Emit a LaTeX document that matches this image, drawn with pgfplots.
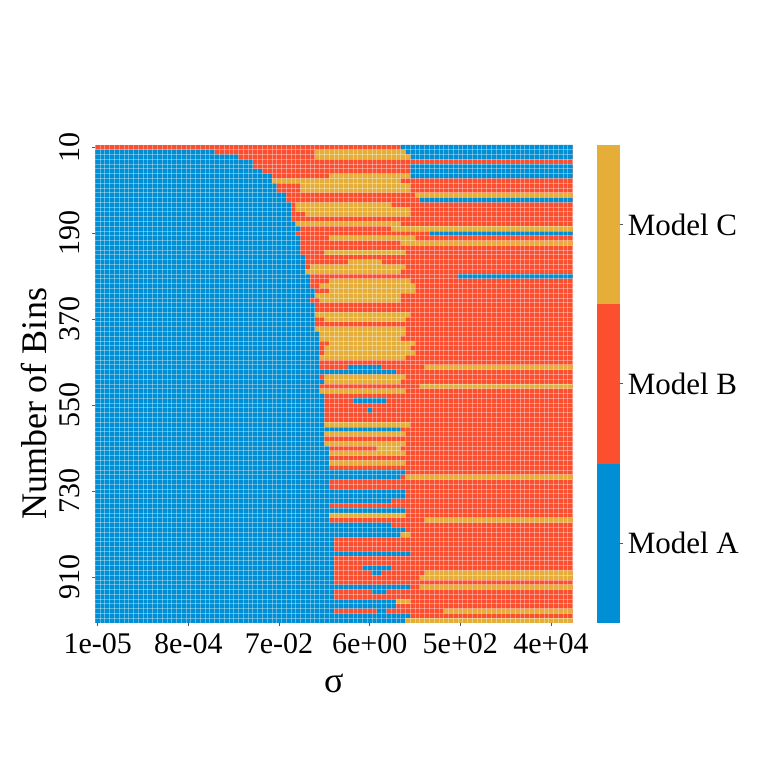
\documentclass[border=0pt]{standalone}
\usepackage{pgfplots}
\pgfplotsset{compat=1.18}
\usepackage{fontspec}
\setmainfont{Liberation Serif}
\definecolor{cA}{HTML}{008FD5}
\definecolor{cB}{HTML}{FC4F30}
\definecolor{cC}{HTML}{E5AE38}
\begin{document}
\begin{tikzpicture}
\path[use as bounding box] (0,0) rectangle (380.5pt,380.5pt);
\begin{axis}[
  at={(47.65pt,69.05pt)}, anchor=south west,
  scale only axis, width=238.6pt, height=239pt,
  xmin=0, xmax=100, ymin=0, ymax=100, y dir=reverse,
  axis line style={draw=none},
  xtick={0.5,19.5,38.5,57.5,76.5,95.5},
  xticklabels={1e-05,8e-04,7e-02,6e+00,5e+02,4e+04},
  ytick={0.5,18.5,36.5,54.5,72.5,90.5},
  yticklabels={10,190,370,550,730,910},
  minor xtick={1,2,...,99}, minor ytick={1,2,...,99},
  xminorgrids, yminorgrids,
  minor grid style={white, opacity=0.35, line width=0.35pt},
  minor tick length=0pt,
  major tick length=1.7pt,
  tick align=outside,
  tick style={black!65, line width=0.5pt},
  xtick pos=left, ytick pos=left,
  axis on top,
  unbounded coords=jump,
  tick label style={font=\fontsize{15}{18}\selectfont},
  yticklabel style={xshift=-5.75pt, rotate=90, anchor=south, inner sep=0pt},
  xticklabel style={anchor=base, inner sep=0pt, yshift=-13.35pt},
  label style={font=\fontsize{18}{21}\selectfont},
  xlabel={σ},
  ylabel={Number of Bins},
  xlabel style={at={(axis description cs:0.5,-0.1446)}, anchor=base},
  ylabel style={at={(axis description cs:-0.1290,0.458)}, anchor=center},
]
\addplot[fill=cB, draw=none] coordinates {(0,0) (100,0) (100,100) (0,100)};
\addplot[fill=cA, draw=none] coordinates {
(0,1)(25,1)(25,2)(0,2)(nan,nan)
(0,2)(30,2)(30,3)(0,3)(nan,nan)
(0,3)(33,3)(33,5)(0,5)(nan,nan)
(0,5)(35,5)(35,6)(0,6)(nan,nan)
(0,6)(37,6)(37,8)(0,8)(nan,nan)
(0,8)(38,8)(38,10)(0,10)(nan,nan)
(0,10)(40,10)(40,12)(0,12)(nan,nan)
(0,12)(41,12)(41,16)(0,16)(nan,nan)
(0,16)(42,16)(42,17)(0,17)(nan,nan)
(0,17)(43,17)(43,18)(0,18)(nan,nan)
(0,18)(42,18)(42,19)(0,19)(nan,nan)
(0,19)(43,19)(43,23)(0,23)(nan,nan)
(0,23)(44,23)(44,27)(0,27)(nan,nan)
(0,27)(45,27)(45,30)(0,30)(nan,nan)
(0,30)(46,30)(46,32)(0,32)(nan,nan)
(0,32)(45,32)(45,33)(0,33)(nan,nan)
(0,33)(46,33)(46,39)(0,39)(nan,nan)
(0,39)(47,39)(47,47)(0,47)(nan,nan)
(0,47)(63,47)(63,48)(0,48)(nan,nan)
(0,48)(47,48)(47,49)(0,49)(nan,nan)
(0,49)(48,49)(48,50)(0,50)(nan,nan)
(0,50)(47,50)(47,52)(0,52)(nan,nan)
(0,52)(48,52)(48,59)(0,59)(nan,nan)
(0,59)(64,59)(64,60)(0,60)(nan,nan)
(0,60)(48,60)(48,63)(0,63)(nan,nan)
(0,63)(49,63)(49,68)(0,68)(nan,nan)
(0,68)(65,68)(65,69)(0,69)(nan,nan)
(0,69)(64,69)(64,70)(0,70)(nan,nan)
(0,70)(49,70)(49,72)(0,72)(nan,nan)
(0,72)(65,72)(65,74)(0,74)(nan,nan)
(0,74)(62,74)(62,75)(0,75)(nan,nan)
(0,75)(49,75)(49,76)(0,76)(nan,nan)
(0,76)(65,76)(65,77)(0,77)(nan,nan)
(0,77)(49,77)(49,79)(0,79)(nan,nan)
(0,79)(62,79)(62,80)(0,80)(nan,nan)
(0,80)(65,80)(65,81)(0,81)(nan,nan)
(0,81)(64,81)(64,82)(0,82)(nan,nan)
(0,82)(50,82)(50,85)(0,85)(nan,nan)
(0,85)(66,85)(66,86)(0,86)(nan,nan)
(0,86)(50,86)(50,92)(0,92)(nan,nan)
(0,92)(66,92)(66,93)(0,93)(nan,nan)
(0,93)(50,93)(50,95)(0,95)(nan,nan)
(0,95)(63,95)(63,97)(0,97)(nan,nan)
(0,97)(50,97)(50,98)(0,98)(nan,nan)
(0,98)(66,98)(66,99)(0,99)(nan,nan)
(0,99)(65,99)(65,100)(0,100)(nan,nan)
(64,0)(100,0)(100,1)(64,1)(nan,nan)
(65,1)(100,1)(100,2)(65,2)(nan,nan)
(66,2)(100,2)(100,3)(66,3)(nan,nan)
(66,4)(100,4)(100,7)(66,7)(nan,nan)
(68,11)(100,11)(100,12)(68,12)(nan,nan)
(70,18)(100,18)(100,19)(70,19)(nan,nan)
(76,27)(100,27)(100,28)(76,28)(nan,nan)
(53,46)(60,46)(60,47)(53,47)(nan,nan)
(54,53)(61,53)(61,54)(54,54)(nan,nan)
(57,55)(58,55)(58,56)(57,56)(nan,nan)
(56,88)(62,88)(62,89)(56,89)(nan,nan)
(58,89)(60,89)(60,90)(58,90)(nan,nan)
(58,93)(61,93)(61,94)(58,94)(nan,nan)
(59,97)(61,97)(61,98)(59,98)
};
\addplot[fill=cC, draw=none] coordinates {
(46,1)(65,1)(65,2)(46,2)(nan,nan)
(46,2)(66,2)(66,3)(46,3)(nan,nan)
(49,6)(66,6)(66,7)(49,7)(nan,nan)
(37,7)(64,7)(64,8)(37,8)(nan,nan)
(43,8)(66,8)(66,10)(43,10)(nan,nan)
(67,10)(100,10)(100,11)(67,11)(nan,nan)
(42,12)(62,12)(62,13)(42,13)(nan,nan)
(42,13)(66,13)(66,14)(42,14)(nan,nan)
(44,14)(66,14)(66,15)(44,15)(nan,nan)
(42,16)(64,16)(64,17)(42,17)(nan,nan)
(62,17)(100,17)(100,18)(62,18)(nan,nan)
(49,19)(67,19)(67,20)(49,20)(nan,nan)
(64,20)(100,20)(100,21)(64,21)(nan,nan)
(48,22)(65,22)(65,23)(48,23)(nan,nan)
(53,24)(60,24)(60,25)(53,25)(nan,nan)
(45,25)(65,25)(65,26)(45,26)(nan,nan)
(44,26)(64,26)(64,27)(44,27)(nan,nan)
(49,28)(66,28)(66,29)(49,29)(nan,nan)
(47,29)(67,29)(67,30)(47,30)(nan,nan)
(49,30)(67,30)(67,31)(49,31)(nan,nan)
(46,31)(64,31)(64,32)(46,32)(nan,nan)
(47,32)(64,32)(64,33)(47,33)(nan,nan)
(46,35)(66,35)(66,36)(46,36)(nan,nan)
(48,36)(65,36)(65,37)(48,37)(nan,nan)
(46,38)(65,38)(65,39)(46,39)(nan,nan)
(47,39)(65,39)(65,40)(47,40)(nan,nan)
(47,40)(64,40)(64,41)(47,41)(nan,nan)
(49,41)(67,41)(67,42)(49,42)(nan,nan)
(48,42)(66,42)(66,43)(48,43)(nan,nan)
(48,43)(67,43)(67,44)(48,44)(nan,nan)
(47,44)(65,44)(65,45)(47,45)(nan,nan)
(69,46)(100,46)(100,47)(69,47)(nan,nan)
(48,48)(65,48)(65,49)(48,49)(nan,nan)
(48,49)(64,49)(64,50)(48,50)(nan,nan)
(68,50)(100,50)(100,51)(68,51)(nan,nan)
(47,51)(65,51)(65,52)(47,52)(nan,nan)
(48,58)(66,58)(66,59)(48,59)(nan,nan)
(48,60)(65,60)(65,61)(48,61)(nan,nan)
(48,62)(65,62)(65,63)(48,63)(nan,nan)
(59,63)(64,63)(64,64)(59,64)(nan,nan)
(49,64)(65,64)(65,65)(49,65)(nan,nan)
(49,66)(65,66)(65,67)(49,67)(nan,nan)
(65,69)(100,69)(100,70)(65,70)(nan,nan)
(49,77)(65,77)(65,78)(49,78)(nan,nan)
(69,78)(100,78)(100,79)(69,79)(nan,nan)
(64,81)(66,81)(66,82)(64,82)(nan,nan)
(69,89)(100,89)(100,90)(69,90)(nan,nan)
(68,90)(100,90)(100,91)(68,91)(nan,nan)
(68,92)(100,92)(100,93)(68,93)(nan,nan)
(63,95)(66,95)(66,96)(63,96)(nan,nan)
(73,97)(100,97)(100,98)(73,98)(nan,nan)
(65,99)(100,99)(100,100)(65,100)
};
\end{axis}
\begin{axis}[
  at={(298.25pt,69.05pt)}, anchor=south west,
  scale only axis, width=11.75pt, height=239pt,
  xmin=0, xmax=1, ymin=0, ymax=3,
  axis line style={draw=none},
  xtick=\empty,
  ytick={0.5,1.5,2.5},
  yticklabels={Model A,Model B,Model C},
  ytick pos=right, yticklabel pos=right,
  tick align=outside, major tick length=1.7pt,
  tick style={black!65, line width=0.5pt},
  axis on top,
  tick label style={font=\fontsize{15.5}{18}\selectfont},
  yticklabel style={anchor=west, inner sep=0pt, xshift=2pt},
]
\addplot[fill=cA, draw=none] coordinates {(0,0) (1,0) (1,1) (0,1)};
\addplot[fill=cB, draw=none] coordinates {(0,1) (1,1) (1,2) (0,2)};
\addplot[fill=cC, draw=none] coordinates {(0,2) (1,2) (1,3) (0,3)};
\end{axis}
\end{tikzpicture}
\end{document}
